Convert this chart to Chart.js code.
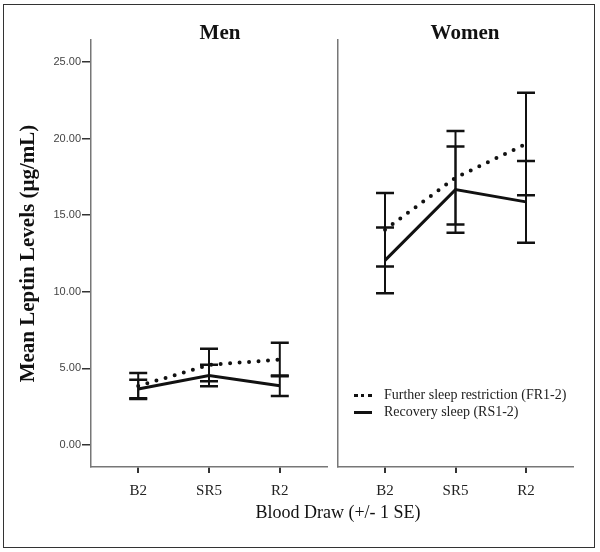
<!DOCTYPE html>
<html>
<head>
<meta charset="utf-8">
<script src="https://cdn.jsdelivr.net/npm/chart.js@4.4.1/dist/chart.umd.min.js"></script>
<style>
  body { margin: 0; background: #fff; }
  #wrap { position: relative; width: 600px; height: 552px; overflow: hidden; }
  #frame { position: absolute; left: 3px; top: 4px; width: 590px; height: 542px; border: 1.5px solid #333; }
  canvas { position: absolute; top: 0; }
  .ttl { position: absolute; top: 20px; font: bold 21px "Liberation Serif", serif; color: #111; transform: translateX(-50%); }
  #xtitle { position: absolute; left: 338px; top: 502px; transform: translateX(-50%); font: 18px "Liberation Serif", serif; color: #111; white-space: nowrap; }
  .lg { position: absolute; left: 354px; font: 14px "Liberation Serif", serif; color: #222; white-space: nowrap; }
  .lg span { display: inline-block; width: 18px; margin-right: 12px; vertical-align: middle; }
</style>
</head>
<body>
<div id="wrap">
  <div id="frame"></div>
  <canvas id="men" width="335" height="552" style="left:0"></canvas>
  <canvas id="women" width="270" height="552" style="left:330px"></canvas>
  <div class="ttl" style="left:220px">Men</div>
  <div class="ttl" style="left:465px">Women</div>
  <div class="lg" style="top:387px"><span style="border-top:3.5px dotted #111"></span>Further sleep restriction (FR1-2)</div>
  <div class="lg" style="top:404px"><span style="border-top:3px solid #111"></span>Recovery sleep (RS1-2)</div>
  <div id="xtitle">Blood Draw (+/- 1 SE)</div>
</div>
<script>
const categories = ['B2', 'SR5', 'R2'];
const yTicks = [0, 5, 10, 15, 20, 25];

const menFurther = [3.85, 5.22, 5.58];
const menFurtherSE = [0.85, 1.06, 1.09];
const menRecovery = [3.65, 4.53, 3.87];
const menRecoverySE = [0.6, 0.7, 0.67];

const womenFurther = [14.05, 17.45, 19.65];
const womenFurtherSE = [2.4, 3.05, 3.35];
const womenRecovery = [12.05, 16.67, 15.87];
const womenRecoverySE = [2.15, 2.82, 2.67];

// error bars drawn through the chart's own scales
const errorBars = {
  id: 'errorBars',
  afterDatasetsDraw(chart) {
    const ctx = chart.ctx;
    const ys = chart.scales.y;
    chart.data.datasets.forEach((ds, i) => {
      const meta = chart.getDatasetMeta(i);
      meta.data.forEach((pt, j) => {
        const m = ds.data[j].y, se = ds.se[j];
        const top = ys.getPixelForValue(m + se);
        const bot = ys.getPixelForValue(m - se);
        ctx.save();
        ctx.strokeStyle = '#111';
        ctx.lineWidth = 2;
        ctx.beginPath();
        ctx.moveTo(pt.x, top); ctx.lineTo(pt.x, bot);
        ctx.stroke();
        ctx.lineWidth = 2.5;
        ctx.beginPath();
        ctx.moveTo(pt.x - 9, top); ctx.lineTo(pt.x + 9, top);
        ctx.moveTo(pt.x - 9, bot); ctx.lineTo(pt.x + 9, bot);
        ctx.stroke();
        ctx.restore();
      });
    });
  }
};

function makeSets(further, furtherSE, recovery, recoverySE) {
  return [
    {
      label: 'Further sleep restriction (FR1-2)',
      data: further.map((v, i) => ({ x: i, y: v })),
      se: furtherSE,
      borderColor: '#111',
      borderWidth: 4,
      borderDash: [0, 9.5],
      borderCapStyle: 'round',
      pointRadius: 0
    },
    {
      label: 'Recovery sleep (RS1-2)',
      data: recovery.map((v, i) => ({ x: i, y: v })),
      se: recoverySE,
      borderColor: '#111',
      borderWidth: 3,
      pointRadius: 0
    }
  ];
}

function makeChart(id, sets, showY, padding) {
  return new Chart(document.getElementById(id), {
    type: 'line',
    data: { datasets: sets },
    plugins: [errorBars],
    options: {
      responsive: false,
      animation: false,
      layout: { padding: padding },
      plugins: { legend: { display: false }, tooltip: { enabled: false } },
      scales: {
        x: {
          type: 'linear',
          min: -0.667,
          max: 2.667,
          afterBuildTicks: s => { s.ticks = categories.map((c, i) => ({ value: i })); },
          afterFit: s => { s.height = 35; },
          ticks: {
            callback: v => categories[v],
            font: { family: 'Liberation Serif', size: 15 },
            color: '#222',
            padding: 9,
            maxRotation: 0
          },
          grid: { drawOnChartArea: false, tickLength: 6, color: '#333', lineWidth: 2 },
          border: { color: '#777', width: 1.5 }
        },
        y: {
          min: -1.44,
          max: 26.44,
          afterBuildTicks: s => { s.ticks = yTicks.map(v => ({ value: v })); },
          afterFit: s => { s.width = showY ? 91 : 0; },
          ticks: {
            display: showY,
            callback: v => v.toFixed(2),
            font: { family: 'Liberation Sans', size: 11 },
            color: '#444',
            padding: 1
          },
          grid: { display: showY, drawOnChartArea: false, tickLength: 9, color: '#333', lineWidth: 1.5 },
          border: { color: '#777', width: 1.5 },
          title: {
            display: showY,
            text: 'Mean Leptin Levels (µg/mL)',
            font: { family: 'Liberation Serif', size: 21, weight: 'bold' },
            color: '#111',
            padding: { top: 16, bottom: 0 }
          }
        }
      }
    }
  });
}

makeChart('men', makeSets(menFurther, menFurtherSE, menRecovery, menRecoverySE), true,
  { left: 0, right: 8, top: 40, bottom: 50 });
makeChart('women', makeSets(womenFurther, womenFurtherSE, womenRecovery, womenRecoverySE), false,
  { left: 8, right: 27, top: 40, bottom: 50 });
</script>
</body>
</html>
